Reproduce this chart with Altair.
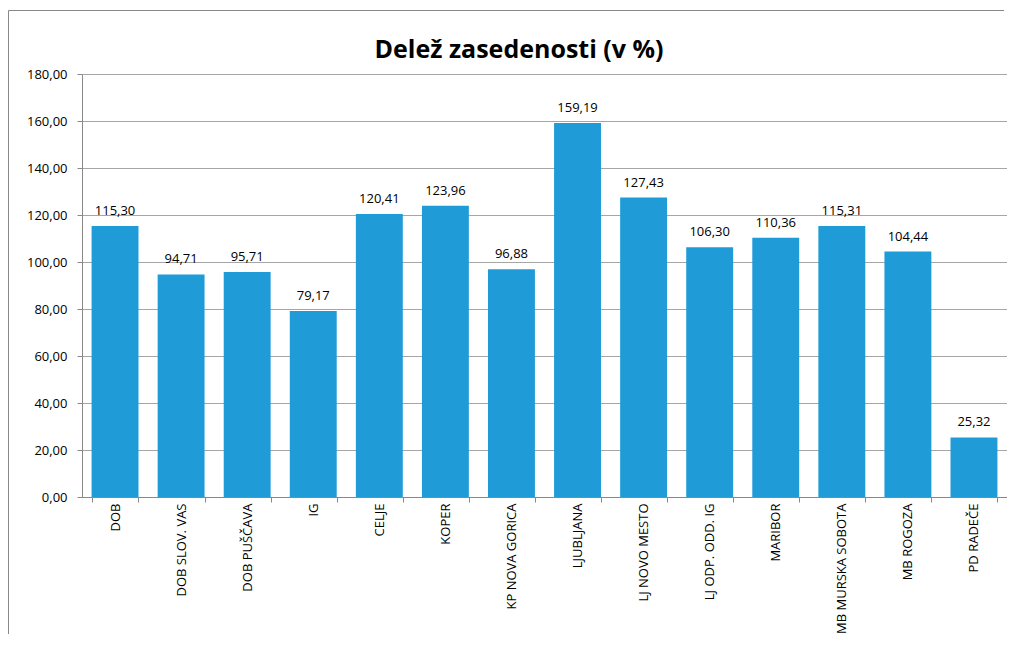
import altair as alt
import pandas as pd

categories = ["DOB", "DOB SLOV. VAS", "DOB PUŠČAVA", "IG", "CELJE", "KOPER",
              "KP NOVA GORICA", "LJUBLJANA", "LJ NOVO MESTO", "LJ ODP. ODD. IG",
              "MARIBOR", "MB MURSKA SOBOTA", "MB ROGOZA", "PD RADEČE"]
values = [115.30, 94.71, 95.71, 79.17, 120.41, 123.96, 96.88, 159.19,
          127.43, 106.30, 110.36, 115.31, 104.44, 25.32]
title_text = ["Delež zasedenosti (v %)"]

df = pd.DataFrame({"kat": categories, "v": values})
tdf = pd.DataFrame({"t": title_text})

FONT = "Open Sans"

base = alt.Chart(df).encode(
    x=alt.X("kat:N", sort=categories, title=None,
            scale=alt.Scale(paddingInner=0.29, paddingOuter=0.145),
            axis=alt.Axis(labelAngle=-90, labelFontSize=13, labelFont=FONT,
                          labelColor="#000000", labelPadding=1,
                          tickBand="extent", tickSize=5, tickColor="#888888",
                          domainColor="#888888", labelAlign="right",
                          labelBaseline="middle")),
    y=alt.Y("v:Q", title=None,
            scale=alt.Scale(domain=[0, 180], nice=False),
            axis=alt.Axis(values=list(range(0, 181, 20)),
                          labelExpr="replace(format(datum.value, '.2f'), '.', ',')",
                          labelFontSize=13, labelFont=FONT, labelColor="#000000",
                          labelPadding=10, tickSize=5, tickColor="#888888",
                          domainColor="#888888", grid=True,
                          gridColor="#a6a6a6", gridWidth=1)),
)

bars = base.mark_bar(color="#1f9bd7")

labels = base.transform_calculate(
    lab="replace(format(datum.v, '.2f'), '.', ',')"
).mark_text(baseline="alphabetic", dy=-11, fontSize=13, font=FONT, color="#000000").encode(
    text="lab:N"
)

title = alt.Chart(tdf).mark_text(
    fontSize=25, font=FONT, fontWeight="bold", color="#000000",
    align="center", baseline="alphabetic"
).encode(text="t:N", x=alt.value(437), y=alt.value(-16))

frame_top = alt.Chart(tdf).mark_rule(color="#888888", strokeWidth=1).encode(
    x=alt.value(-73.5), x2=alt.value(922), y=alt.value(-63.5)
)
frame_left = alt.Chart(tdf).mark_rule(color="#888888", strokeWidth=1).encode(
    x=alt.value(-73.5), y=alt.value(-63.5), y2=alt.value(560)
)

chart = alt.layer(frame_top, frame_left, bars, labels, title).properties(
    width=925, height=423,
    padding={"left": 74, "top": 66, "right": 0, "bottom": 140},
    autosize=alt.AutoSizeParams(type="none"),
).configure_view(stroke=None)

chart.save("out.html", embed_options={"renderer": "svg", "actions": False})
